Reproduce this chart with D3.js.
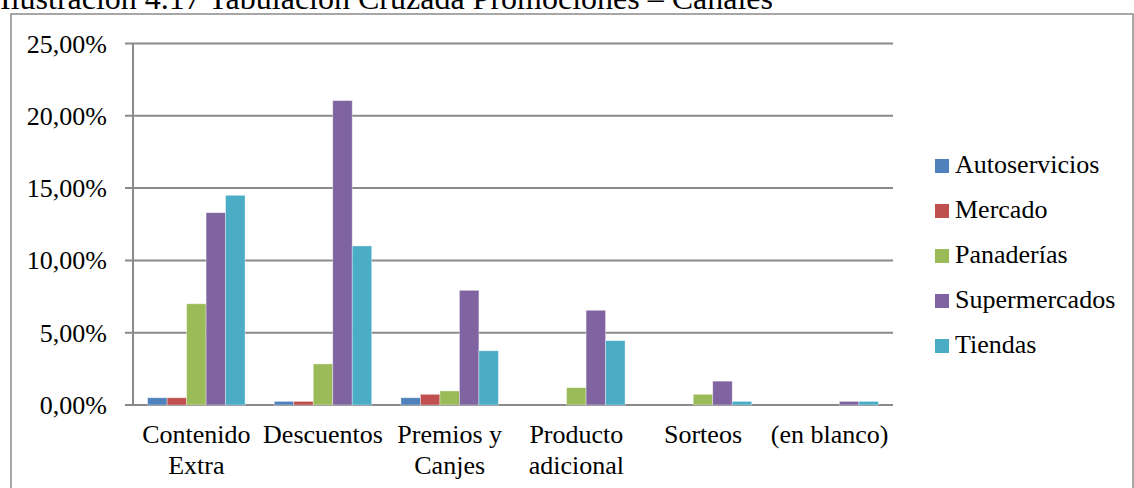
<!DOCTYPE html>
<html lang="es">
  <head>
    <meta charset="utf-8">
    <title>Tabulación Cruzada Promociones – Canales</title>
    <script src="https://cdn.jsdelivr.net/npm/d3@7"></script>
    <style>
      body { margin: 0; background: #fff; }
      svg text { font-family: "Liberation Serif", "Times New Roman", serif; fill: #000; }
    </style>
  </head>
  <body>
    <div id="chart"></div>
    <script>
    (function(d3) {
      'use strict';

      var categories = [
        ['Contenido', 'Extra'],
        ['Descuentos'],
        ['Premios y', 'Canjes'],
        ['Producto', 'adicional'],
        ['Sorteos'],
        ['(en blanco)']
      ];
      var seriesNames = ['Autoservicios', 'Mercado', 'Panaderías', 'Supermercados', 'Tiendas'];
      var seriesColors = ['#4F81BD', '#C0504D', '#9BBB59', '#8064A2', '#4BACC6'];

      // percentages per category, one array per channel
      var autoservicios = [0.50, 0.25, 0.50, 0, 0, 0];
      var mercado       = [0.50, 0.25, 0.74, 0, 0, 0];
      var panaderias    = [7.00, 2.84, 0.97, 1.20, 0.74, 0];
      var supermercados = [13.30, 21.05, 7.93, 6.55, 1.65, 0.25];
      var tiendas       = [14.50, 11.00, 3.75, 4.45, 0.25, 0.25];

      var yTicks = [0, 5, 10, 15, 20, 25];
      var title = 'Ilustración 4.17 Tabulación Cruzada Promociones – Canales';

      var values = [autoservicios, mercado, panaderias, supermercados, tiendas];
      var catKeys = categories.map(function(c) { return c.join(' '); });

      var width = 1134, height = 488;
      var plot = { left: 133, right: 893, top: 43.5, bottom: 405 };
      var fontSize = '26px';

      var svg = d3.select('#chart').append('svg')
        .attr('width', width)
        .attr('height', height);

      // outer frame
      svg.append('rect')
        .attr('x', 11).attr('y', 14)
        .attr('width', 1122).attr('height', 520)
        .attr('fill', 'none')
        .attr('stroke', '#8a8a8a')
        .attr('stroke-width', 1.5);

      // caption above the frame (only its lower part is in view)
      svg.append('text')
        .attr('x', 0).attr('y', 9)
        .style('font-size', '32px')
        .text(title);

      var x0 = d3.scaleBand().domain(catKeys).range([plot.left, plot.right]);
      var x1 = d3.scaleBand().domain(seriesNames).range([0, x0.bandwidth()])
        .paddingInner(0).paddingOuter(0.75);
      var y = d3.scaleLinear().domain([0, 25]).range([plot.bottom, plot.top]);

      // gridlines + y labels
      svg.append('g').selectAll('line').data(yTicks).enter().append('line')
        .attr('x1', plot.left - 8).attr('x2', plot.right)
        .attr('y1', function(d) { return y(d); })
        .attr('y2', function(d) { return y(d); })
        .attr('stroke', '#8a8a8a')
        .attr('stroke-width', 2);

      svg.append('g').selectAll('text').data(yTicks).enter().append('text')
        .attr('x', 107)
        .attr('y', function(d) { return y(d) + 9; })
        .attr('text-anchor', 'end')
        .style('font-size', fontSize)
        .text(function(d) { return d3.format('.2f')(d).replace('.', ',') + '%'; });

      // bars
      var groups = svg.append('g').selectAll('g').data(catKeys).enter().append('g')
        .attr('transform', function(d) { return 'translate(' + x0(d) + ',0)'; });

      groups.selectAll('rect')
        .data(function(d, i) {
          return seriesNames.map(function(s, j) { return { s: s, v: values[j][i], c: seriesColors[j] }; });
        })
        .enter().append('rect')
        .filter(function(d) { return d.v > 0; })
        .attr('x', function(d) { return x1(d.s); })
        .attr('width', x1.bandwidth())
        .attr('y', function(d) { return y(d.v); })
        .attr('height', function(d) { return y(0) - y(d.v); })
        .attr('fill', function(d) { return d.c; })
        .attr('stroke', 'rgba(255,255,255,0.45)')
        .attr('stroke-width', 0.8);

      // y axis line
      svg.append('line')
        .attr('x1', plot.left).attr('x2', plot.left)
        .attr('y1', plot.top).attr('y2', plot.bottom)
        .attr('stroke', '#8a8a8a').attr('stroke-width', 2);

      // category labels
      svg.append('g').selectAll('text').data(categories).enter().append('text')
        .attr('text-anchor', 'middle')
        .attr('x', function(d, i) { return x0(catKeys[i]) + x0.bandwidth() / 2; })
        .attr('y', 443)
        .style('font-size', fontSize)
        .each(function(d) {
          var t = d3.select(this);
          d.forEach(function(line, k) {
            t.append('tspan')
              .attr('x', t.attr('x'))
              .attr('dy', k === 0 ? 0 : 31)
              .text(line);
          });
        });

      // legend
      var legend = svg.append('g').selectAll('g').data(seriesNames).enter().append('g')
        .attr('transform', function(d, i) { return 'translate(935,' + (159 + i * 45) + ')'; });
      legend.append('rect')
        .attr('width', 14).attr('height', 14)
        .attr('fill', function(d, i) { return seriesColors[i]; });
      legend.append('text')
        .attr('x', 20).attr('y', 14)
        .style('font-size', fontSize)
        .text(function(d) { return d; });

    })(window.d3);
    </script>
  </body>
</html>
